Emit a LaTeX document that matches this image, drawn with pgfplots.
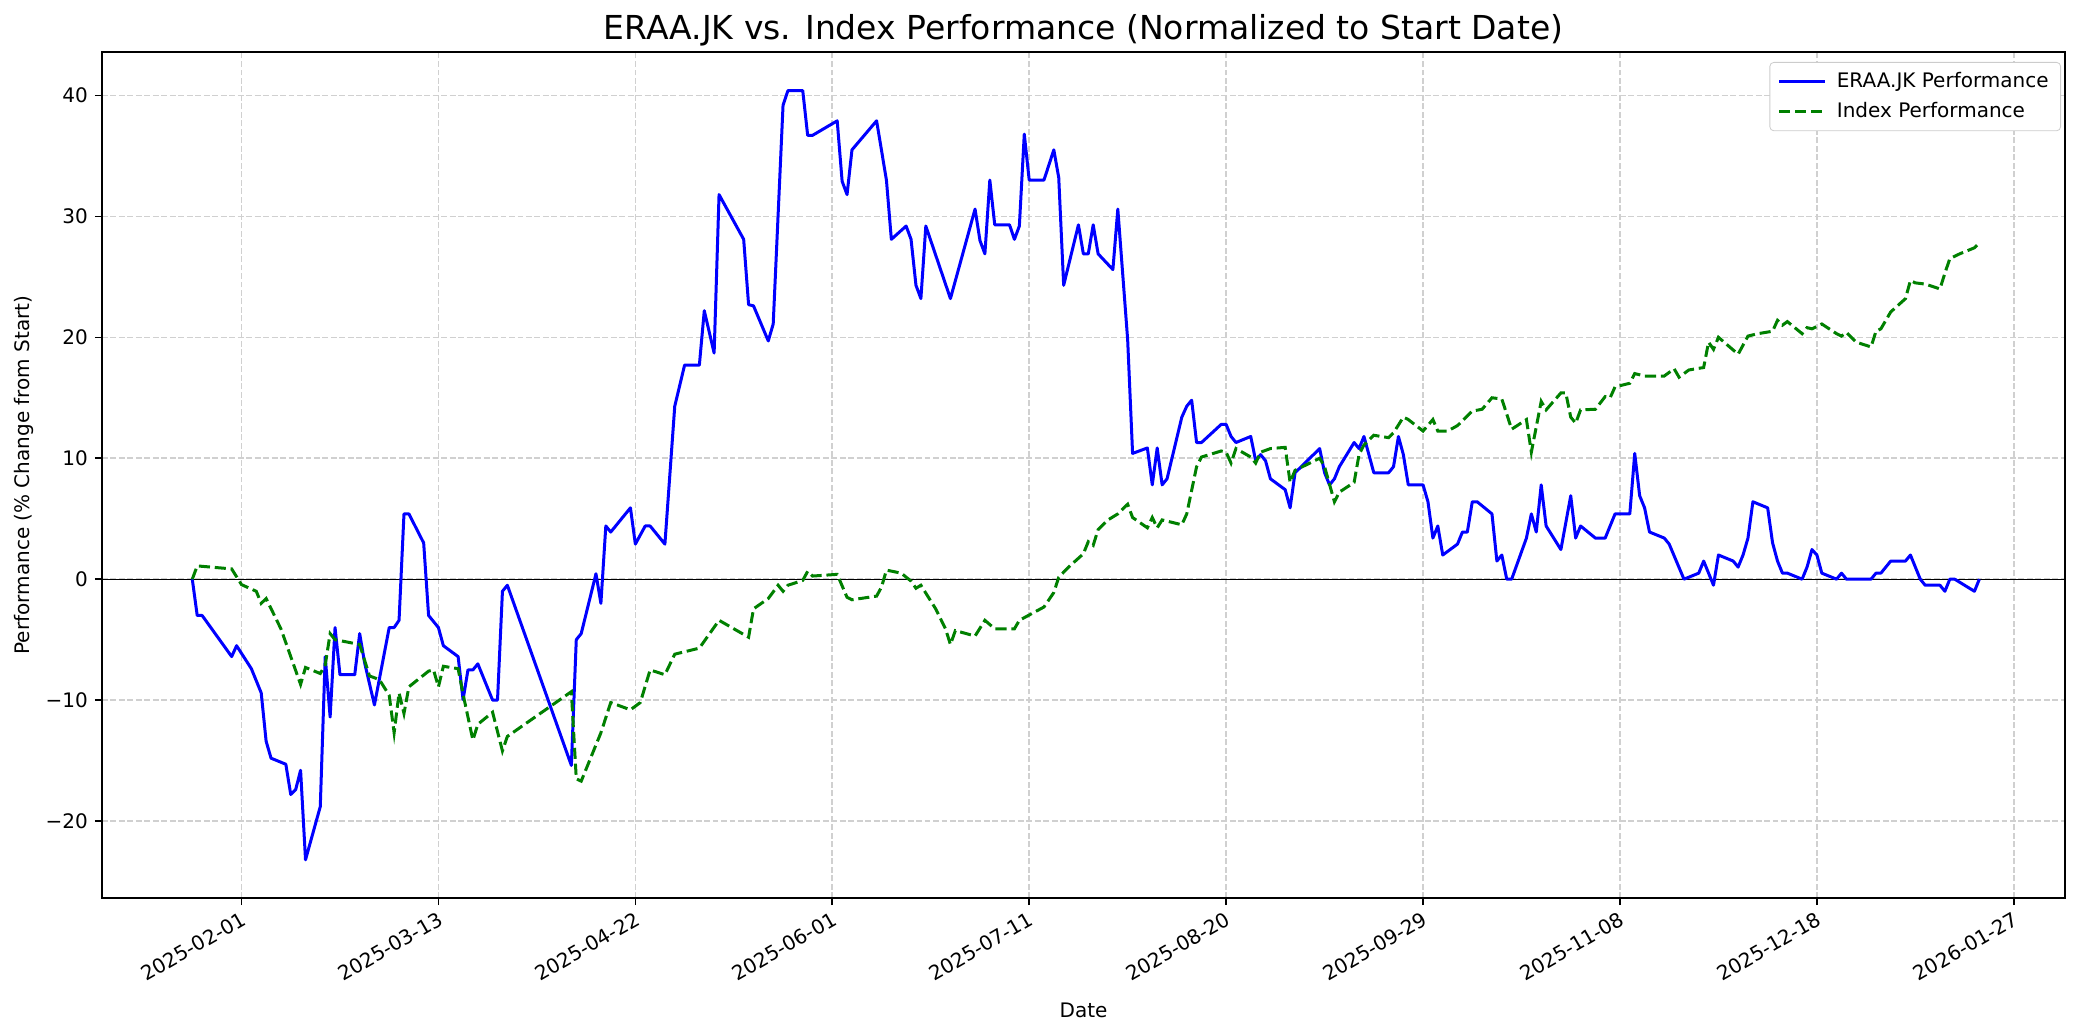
\documentclass[border=0pt]{standalone}
\usepackage{fontspec}
\setmainfont{DejaVu Sans}
\usepackage{pgfplots}
\pgfplotsset{compat=1.18}
\definecolor{mplgreen}{RGB}{0,128,0}
\definecolor{gridgray}{RGB}{208,208,208}
\definecolor{leggray}{RGB}{204,204,204}
\begin{document}
\begin{tikzpicture}
\path[use as bounding box] (-51pt,-68.5pt) rectangle (991pt,449pt);
\begin{axis}[
  at={(0,0)}, anchor=south west,
  scale only axis, width=981.5pt, height=423pt,
  xmin=-28.34, xmax=370.4, ymin=-26.36, ymax=43.59,
  axis line style={line width=0.8pt, black},
  tick align=outside, major tick length=3.5pt,
  tick style={line width=0.8pt, black},
  xtick pos=bottom, ytick pos=left,
  xtick={0,40,80,120,160,200,240,280,320,360},
  xticklabels={2025-02-01,2025-03-13,2025-04-22,2025-06-01,2025-07-11,2025-08-20,2025-09-29,2025-11-08,2025-12-18,2026-01-27},
  ytick={-20,-10,0,10,20,30,40},
  yticklabels={−20,−10,0,10,20,30,40},
  ticklabel style={font=\fontsize{10}{12}\selectfont},
  xticklabel style={rotate=30, anchor=north east, inner sep=2pt},
  grid=major,
  grid style={gridgray, line width=0.8pt, dash pattern=on 2.96pt off 1.28pt},
  title={ERAA.JK vs. Index Performance (Normalized to Start Date)},
  title style={font=\fontsize{16.5}{19}\selectfont, at={(axis description cs:0.5,1)}, anchor=base, yshift=0pt},
  xlabel={Date},
  xlabel style={font=\fontsize{10}{12}\selectfont, at={(axis description cs:0.5,-0.1324)}, anchor=center},
  ylabel={Performance (\% Change from Start)},
  ylabel style={font=\fontsize{10}{12}\selectfont, at={(axis description cs:-0.0397,0.5)}, anchor=center, rotate=0},
  legend style={at={(1,1)}, anchor=north east, xshift=-2pt, yshift=-5pt,
    draw=leggray, rounded corners=2pt, fill=white,
    font=\fontsize{10}{12}\selectfont, inner xsep=4pt, inner ysep=3pt, row sep=2pt,
    /tikz/every odd column/.append style={column sep=3pt}},
  legend cell align=left,
  legend image code/.code={\draw[#1] (0pt,0pt) -- (23pt,0pt);},
]
\addplot[black, line width=0.6pt, forget plot] coordinates {(-28.34,0) (370.4,0)};
\addplot[blue, line width=1.5pt, line join=round] coordinates {
(-10,0) (-9,-3.0) (-8,-3.0) (-2,-6.4) (-1,-5.5) (2,-7.4) (4,-9.4) (5,-13.4) (6,-14.8)
(9,-15.3) (10,-17.8) (11,-17.4) (12,-15.8) (13,-23.2) (16,-18.8) (17,-6.4) (18,-11.4)
(19,-4.0) (20,-7.9) (23,-7.9) (24,-4.5) (25,-6.9) (27,-10.4) (30,-4.0) (31,-4.0) (32,-3.4)
(33,5.4) (34,5.4) (37,3.0) (38,-3.0) (40,-4.0) (41,-5.5) (44,-6.4) (45,-9.96) (46,-7.5)
(47,-7.5) (48,-7.0) (51,-10) (52,-10) (53,-1.0) (54,-0.5) (67,-15.4) (68,-5.0) (69,-4.5)
(72,0.45) (73,-2.0) (74,4.4) (75,3.9) (79,5.9) (80,2.9) (82,4.4) (83,4.4) (86,2.9)
(88,14.3) (90,17.7) (93,17.7) (94,22.2) (96,18.7) (97,31.8) (102,28.1) (103,22.7)
(104,22.6) (107,19.7) (108,21.1) (110,39.2) (111,40.4) (114,40.4) (115,36.7) (116,36.7)
(121,37.9) (122,32.9) (123,31.8) (124,35.5) (129,37.9) (131,33.0) (132,28.1) (135,29.2)
(136,28.1) (137,24.3) (138,23.2) (139,29.2) (144,23.2) (149,30.6) (150,28.0) (151,26.9)
(152,33.0) (153,29.3) (156,29.3) (157,28.1) (158,29.2) (159,36.8) (160,33.0) (163,33.0)
(165,35.5) (166,33.2) (167,24.3) (170,29.3) (171,26.9) (172,26.9) (173,29.3) (174,26.9)
(177,25.6) (178,30.6) (180,19.8) (181,10.4) (184,10.85) (185,7.8) (186,10.85) (187,7.8)
(188,8.3) (191,13.4) (192,14.3) (193,14.8) (194,11.3) (195,11.3) (199,12.8) (200,12.8)
(201,11.8) (202,11.3) (205,11.8) (206,9.8) (207,10.3) (208,9.8) (209,8.3) (212,7.4)
(213,5.9) (214,8.8) (219,10.8) (220,8.8) (221,7.8) (222,8.3) (223,9.3) (226,11.3)
(227,10.8) (228,11.8) (230,8.8) (233,8.8) (234,9.3) (235,11.8) (236,10.3) (237,7.8)
(240,7.8) (241,6.4) (242,3.4) (243,4.4) (244,2.0) (247,2.9) (248,3.9) (249,3.9) (250,6.4)
(251,6.4) (254,5.4) (255,1.5) (256,2.0) (257,0) (258,0) (261,3.4) (262,5.4) (263,3.9)
(264,7.8) (265,4.4) (268,2.45) (270,6.9) (271,3.4) (272,4.4) (275,3.4) (277,3.4) (279,5.4)
(282,5.4) (283,10.4) (284,6.9) (285,5.9) (286,3.9) (289,3.4) (290,2.9) (293,0) (296,0.5)
(297,1.5) (299,-0.5) (300,2.0) (303,1.5) (304,1.0) (305,2.0) (306,3.4) (307,6.4) (310,5.9)
(311,3.0) (312,1.5) (313,0.5) (314,0.5) (317,0) (318,1.0) (319,2.45) (320,2.0) (321,0.5)
(324,0) (325,0.5) (326,0) (331,0) (332,0.5) (333,0.5) (335,1.5) (338,1.5) (339,2.0)
(341,0) (342,-0.5) (345,-0.5) (346,-1.0) (347,0) (348,0) (352,-1.0) (353,0)
};
\addlegendentry{ERAA.JK Performance}
\addplot[mplgreen, line width=1.5pt, dash pattern=on 5.55pt off 2.4pt] coordinates {
(-10,0) (-9,1.1) (-2,0.85) (0,-0.45) (3,-1.0) (4,-2.0) (5,-1.6) (8,-4.1) (12,-8.7)
(13,-7.3) (16,-7.8) (17,-7.1) (18,-4.5) (19,-5.0) (24,-5.4) (26,-8.0) (28,-8.3) (30,-9.6)
(31,-12.7) (32,-9.4) (33,-11.1) (34,-8.9) (38,-7.6) (39,-7.5) (40,-8.9) (41,-7.2) (44,-7.4)
(45,-9.5) (47,-13.3) (48,-12.0) (51,-11.0) (53,-14.2) (54,-13.0) (67,-9.3) (68,-16.5)
(69,-16.7) (73,-12.7) (75,-10.2) (79,-10.8) (81,-10.2) (83,-7.5) (86,-7.9) (88,-6.2)
(93,-5.7) (97,-3.4) (103,-4.8) (104,-2.45) (107,-1.6) (109,-0.5) (110,-1.0) (111,-0.5)
(114,-0.1) (115,0.65) (116,0.26) (121,0.4) (123,-1.5) (124,-1.7) (129,-1.4) (130,-0.65)
(131,0.75) (134,0.5) (136,-0.16) (137,-0.75) (138,-0.5) (141,-2.45) (143,-4.1) (144,-5.4)
(145,-4.25) (149,-4.7) (151,-3.4) (153,-4.1) (157,-4.1) (158,-3.4) (163,-2.3) (165,-1.1)
(166,0.16) (168,1.0) (171,2.1) (172,3.1) (173,2.8) (174,4.1) (176,4.9) (178,5.4) (180,6.2)
(181,5.1) (184,4.25) (185,5.1) (186,4.25) (187,4.9) (191,4.5) (192,5.4) (194,9.3)
(195,10.1) (199,10.6) (200,10.5) (201,9.6) (202,10.8) (205,10.1) (206,9.6) (207,10.5)
(209,10.8) (212,10.9) (213,8.0) (214,9.0) (219,10.0) (220,9.3) (222,6.4) (223,7.2)
(226,8.0) (227,10.3) (228,11.1) (230,11.9) (233,11.7) (234,12.1) (236,13.4) (237,13.2)
(240,12.25) (242,13.2) (243,12.25) (245,12.25) (247,12.7) (250,13.9) (252,14.05)
(254,15.0) (256,14.9) (258,12.4) (261,13.2) (262,10.5) (264,14.7) (265,14.0) (268,15.4)
(269,15.4) (270,13.4) (271,12.9) (272,14.0) (275,14.05) (277,15.1) (278,15.0) (279,15.9)
(282,16.2) (283,17.0) (285,16.8) (289,16.8) (291,17.4) (292,16.7) (294,17.3) (297,17.5)
(298,19.6) (299,19.0) (300,20.0) (304,18.6) (306,20.1) (308,20.3) (311,20.5) (312,21.4)
(313,21.0) (314,21.3) (317,20.3) (318,20.8) (319,20.7) (321,21.1) (324,20.3) (325,20.1)
(326,20.4) (328,19.6) (331,19.2) (332,20.5) (333,20.7) (335,22.1) (338,23.2) (339,24.7)
(340,24.5) (342,24.4) (345,24.0) (346,25.3) (347,26.5) (349,26.9) (352,27.4) (353,27.8)
};
\addlegendentry{Index Performance}
\end{axis}
\end{tikzpicture}
\end{document}
